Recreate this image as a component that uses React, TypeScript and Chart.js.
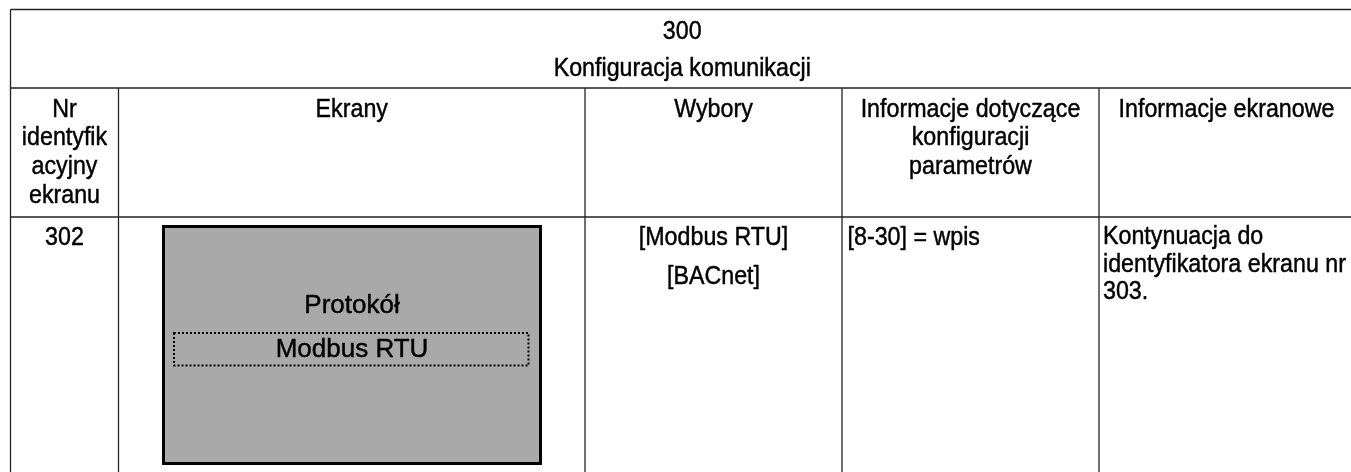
import React, { useEffect, useRef } from "react";
import { Chart, registerables } from "chart.js";

Chart.register(...registerables);

// ---- content (data) ----
const TITLE_LINES = ["300", "Konfiguracja komunikacji"];
const HEADER_COLUMNS = [
  ["Nr", "identyfik", "acyjny", "ekranu"],
  ["Ekrany"],
  ["Wybory"],
  ["Informacje dotyczące", "konfiguracji", "parametrów"],
  ["Informacje ekranowe"],
];
const ROW_IDS = ["302"];
const SCREEN_LINES = ["Protokół", "Modbus RTU"];
const CHOICES = ["[Modbus RTU]", "[BACnet]"];
const CONFIG_INFO = ["[8-30] = wpis"];
const SCREEN_INFO = ["Kontynuacja do", "identyfikatora ekranu nr", "303."];

// ---- layout (in scale units, 1 unit = 1 px) ----
const TABLE = { left: 10.5, right: 1354, top: 9.5, titleBottom: 88, headBottom: 217, bottom: 472 };
const COL_EDGES = [10.5, 118.5, 585, 842, 1099, 1354];
const FONT = "'Liberation Sans', Arial, sans-serif";
const TEXT_SIZE = 25;
const STRETCH = 0.93;

function text(ctx: CanvasRenderingContext2D, s: string, x: number, y: number, align: CanvasTextAlign, size: number, sx: number) {
  ctx.save();
  ctx.translate(x, y);
  ctx.scale(sx, 1);
  ctx.font = `${size}px ${FONT}`;
  ctx.textAlign = align;
  ctx.textBaseline = "alphabetic";
  ctx.fillStyle = "#000";
  ctx.strokeStyle = "#000";
  ctx.lineWidth = 0.45;
  ctx.lineJoin = "round";
  ctx.fillText(s, 0, 0);
  ctx.strokeText(s, 0, 0);
  ctx.restore();
}

const tablePlugin = {
  id: "tablePlugin",
  afterDraw(chart: any) {
    const ctx: CanvasRenderingContext2D = chart.ctx;
    const xs = chart.scales.x;
    const ys = chart.scales.y;
    const X = (v: number) => xs.getPixelForValue(v);
    const Y = (v: number) => ys.getPixelForValue(v);

    ctx.save();
    // grid lines
    ctx.strokeStyle = "#222";
    ctx.lineWidth = 1.3;
    const hline = (y: number, x0: number, x1: number) => {
      ctx.beginPath(); ctx.moveTo(X(x0), Y(y)); ctx.lineTo(X(x1), Y(y)); ctx.stroke();
    };
    const vline = (x: number, y0: number, y1: number) => {
      ctx.beginPath(); ctx.moveTo(X(x), Y(y0)); ctx.lineTo(X(x), Y(y1)); ctx.stroke();
    };
    hline(TABLE.top, TABLE.left, TABLE.right);
    hline(TABLE.titleBottom, TABLE.left, TABLE.right);
    hline(TABLE.headBottom, TABLE.left, TABLE.right);
    vline(TABLE.left, TABLE.top, TABLE.bottom);
    for (let i = 1; i < COL_EDGES.length - 1; i++) vline(COL_EDGES[i], TABLE.titleBottom, TABLE.bottom);

    // title
    const midX = (TABLE.left + TABLE.right) / 2;
    const titleBase = [38.5, 75.5];
    TITLE_LINES.forEach((s, i) => text(ctx, s, X(midX), Y(titleBase[i]), "center", TEXT_SIZE, STRETCH));

    // header
    HEADER_COLUMNS.forEach((lines, c) => {
      const cx = (COL_EDGES[c] + COL_EDGES[c + 1]) / 2;
      lines.forEach((s, i) => text(ctx, s, X(cx), Y(116.5 + i * 28.7), "center", TEXT_SIZE, STRETCH));
    });

    // body: id
    ROW_IDS.forEach((s, i) => text(ctx, s, X((COL_EDGES[0] + COL_EDGES[1]) / 2), Y(244.5 + i * 28), "center", TEXT_SIZE, STRETCH));

    // screen mockup
    const box = { l: 163.5, r: 540.5, t: 226.5, b: 463.5 };
    ctx.fillStyle = "#a9a9a9";
    ctx.fillRect(X(box.l), Y(box.t), X(box.r) - X(box.l), Y(box.b) - Y(box.t));
    ctx.strokeStyle = "#000";
    ctx.lineWidth = 3;
    ctx.strokeRect(X(box.l), Y(box.t), X(box.r) - X(box.l), Y(box.b) - Y(box.t));
    ctx.setLineDash([2, 2]);
    ctx.lineWidth = 2;
    ctx.strokeStyle = "#000";
    ctx.strokeRect(X(174), Y(333), X(528.5) - X(174), Y(365.5) - Y(333));
    ctx.setLineDash([]);
    const boxCx = (box.l + box.r) / 2;
    const screenBase = [313.3, 357.3];
    SCREEN_LINES.forEach((s, i) => text(ctx, s, X(boxCx), Y(screenBase[i]), "center", 26, 1));

    // choices
    const choiceBase = [245, 284];
    CHOICES.forEach((s, i) => text(ctx, s, X((COL_EDGES[2] + COL_EDGES[3]) / 2), Y(choiceBase[i]), "center", TEXT_SIZE, STRETCH));

    // config info
    CONFIG_INFO.forEach((s, i) => text(ctx, s, X(COL_EDGES[3] + 5.5), Y(245 + i * 27.5), "left", TEXT_SIZE, STRETCH));

    // screen info
    SCREEN_INFO.forEach((s, i) => text(ctx, s, X(COL_EDGES[4] + 4), Y(244 + i * 27.5), "left", TEXT_SIZE, STRETCH));
    ctx.restore();
  },
};

export default function App() {
  const ref = useRef<HTMLCanvasElement | null>(null);
  useEffect(() => {
    if (!ref.current) return;
    const chart = new Chart(ref.current, {
      type: "scatter",
      data: { datasets: [{ data: [], showLine: false }] },
      options: {
        animation: false,
        responsive: true,
        maintainAspectRatio: false,
        devicePixelRatio: 1,
        layout: { padding: 0 },
        plugins: { legend: { display: false }, tooltip: { enabled: false }, title: { display: false } },
        events: [],
        scales: {
          x: { type: "linear", min: 0, max: 1351, display: false },
          y: { type: "linear", min: 0, max: 472, reverse: true, display: false },
        },
      },
      plugins: [tablePlugin],
    });
    return () => chart.destroy();
  }, []);
  return (
    <div style={{ position: "fixed", left: 0, top: 0, width: 1351, height: 472, background: "#fff" }}>
      <canvas ref={ref} />
    </div>
  );
}
